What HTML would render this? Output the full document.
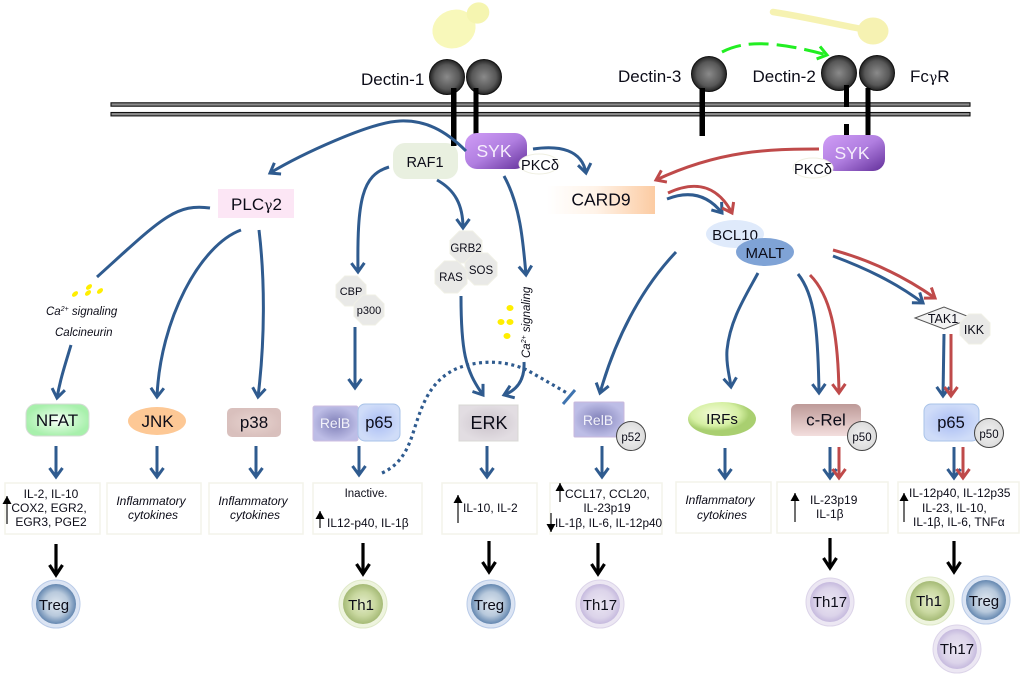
<!DOCTYPE html>
<html><head><meta charset="utf-8"><title>Dectin signaling</title>
<style>
html,body{margin:0;padding:0;background:#fff}
svg{display:block;filter:blur(.35px)}
text{font-family:"Liberation Sans","DejaVu Sans",sans-serif;fill:#0c0c18}
.c{text-anchor:middle}
.s12{font-size:12px}
.i{font-style:italic;font-size:12px}
.b{fill:none;stroke:#2f5b8f;stroke-width:3;marker-end:url(#mb)}
.n{fill:none;stroke:#2f5b8f;stroke-width:3}
.r{fill:none;stroke:#bf4a4a;stroke-width:3;marker-end:url(#mr)}
.k{fill:none;stroke:#000;stroke-width:3.2;marker-end:url(#mk)}
.u{fill:none;stroke:#333;stroke-width:1.4;marker-end:url(#mu)}
.box{fill:#fff;stroke:#f3f3ea;stroke-width:1.5}
</style></head><body>
<svg width="1024" height="676" viewBox="0 0 1024 676" xmlns="http://www.w3.org/2000/svg">
<defs>
<marker id="mb" markerUnits="userSpaceOnUse" markerWidth="18" markerHeight="18" refX="14" refY="8" orient="auto" overflow="visible"><path d="M5 1.500L14 8L5 14.500" fill="none" stroke="#2f5b8f" stroke-width="3"/></marker>
<marker id="mr" markerUnits="userSpaceOnUse" markerWidth="18" markerHeight="18" refX="14" refY="8" orient="auto" overflow="visible"><path d="M5 1.500L14 8L5 14.500" fill="none" stroke="#bf4a4a" stroke-width="3"/></marker>
<marker id="mk" markerUnits="userSpaceOnUse" markerWidth="18" markerHeight="18" refX="14" refY="8" orient="auto" overflow="visible"><path d="M4 1.500L14 8L4 14.500" fill="none" stroke="#000" stroke-width="3.200"/></marker>
<marker id="mu" markerUnits="userSpaceOnUse" markerWidth="12" markerHeight="12" refX="9" refY="5" orient="auto" overflow="visible"><path d="M1 0.5L9 5L1 9.5Z" fill="#000"/></marker>
<marker id="mg" markerUnits="userSpaceOnUse" markerWidth="18" markerHeight="18" refX="14" refY="8" orient="auto" overflow="visible"><path d="M5 1.500L14 8L5 14.500" fill="none" stroke="#22ee22" stroke-width="3"/></marker>
<radialGradient id="ball"><stop offset="0" stop-color="#8a8a8a"/><stop offset=".7" stop-color="#575757"/><stop offset="1" stop-color="#222"/></radialGradient>
<linearGradient id="syk" x1="0" y1="0" x2="1" y2="1"><stop offset="0" stop-color="#d09df6"/><stop offset=".5" stop-color="#b07ee0"/><stop offset="1" stop-color="#63309a"/></linearGradient>
<linearGradient id="card" x1="0" x2="1" y1="0" y2="0"><stop offset="0" stop-color="#fff"/><stop offset=".45" stop-color="#fff3e8"/><stop offset="1" stop-color="#fccba2"/></linearGradient>
<radialGradient id="nfat"><stop offset="0" stop-color="#fff"/><stop offset=".5" stop-color="#cdf8cf"/><stop offset="1" stop-color="#a8f0ac"/></radialGradient>
<radialGradient id="p38"><stop offset="0" stop-color="#e8d4d0"/><stop offset="1" stop-color="#d9c0bd"/></radialGradient>
<radialGradient id="relb"><stop offset="0" stop-color="#8080b8"/><stop offset="1" stop-color="#bdbde6"/></radialGradient>
<radialGradient id="p65"><stop offset="0" stop-color="#aabdf5"/><stop offset="1" stop-color="#cfdcf8"/></radialGradient>
<radialGradient id="erk"><stop offset="0" stop-color="#cbc3cb"/><stop offset="1" stop-color="#e2dde2"/></radialGradient>
<linearGradient id="crel" x1="0" x2="0" y1="0" y2="1"><stop offset="0" stop-color="#bd9a98"/><stop offset="1" stop-color="#f3dedd"/></linearGradient>
<radialGradient id="irf" cx=".4" cy=".35"><stop offset="0" stop-color="#f3fbd8"/><stop offset=".7" stop-color="#d6f0a4"/><stop offset="1" stop-color="#a9cf70"/></radialGradient>
<radialGradient id="treg"><stop offset="0" stop-color="#dfe7f0"/><stop offset=".6" stop-color="#b8c9dc"/><stop offset="1" stop-color="#6487b0"/></radialGradient>
<radialGradient id="th1"><stop offset="0" stop-color="#e3ebc9"/><stop offset=".6" stop-color="#c9d8a0"/><stop offset="1" stop-color="#a5ba76"/></radialGradient>
<radialGradient id="th17"><stop offset="0" stop-color="#eae5f2"/><stop offset=".7" stop-color="#dcd4ea"/><stop offset="1" stop-color="#c6bade"/></radialGradient>
<radialGradient id="p5"><stop offset="0" stop-color="#f2f2f2"/><stop offset="1" stop-color="#dcdcdc"/></radialGradient>
<polygon id="o16" points="16,6.6 6.6,16 -6.6,16 -16,6.6 -16,-6.6 -6.6,-16 6.6,-16 16,-6.6" fill="#e9e9e7" stroke="#f0f0e6" stroke-width="1"/>
<polygon id="o15" points="15,6.2 6.2,15 -6.2,15 -15,6.2 -15,-6.2 -6.2,-15 6.2,-15 15,-6.2" fill="#e9e9e7" stroke="#f0f0e6" stroke-width="1"/>
</defs>

<!-- fungi -->
<g fill="#f8f8ba">
<ellipse cx="454" cy="29" rx="22" ry="19" transform="rotate(-22 454 29)"/>
<ellipse cx="478" cy="13" rx="11.500" ry="10.500" transform="rotate(-25 478 13)" fill="#f5f5b0"/>
</g>
<path d="M773 12C800 16 835 24 862 29" stroke="#f6f2b2" stroke-width="6.500" fill="none" stroke-linecap="round"/>
<ellipse cx="873" cy="31" rx="15.500" ry="13.500" fill="#f6f2b2"/>

<!-- membrane -->
<rect x="111" y="102.800" width="859" height="3.400" fill="#8c8c8c" stroke="#111" stroke-width="1.100"/>
<rect x="111" y="112.500" width="859" height="3.400" fill="#8c8c8c" stroke="#111" stroke-width="1.100"/>

<!-- stems -->
<g fill="#000">
<rect x="451" y="88" width="5.5" height="58"/>
<rect x="473.500" y="90" width="5" height="44"/>
<rect x="699.500" y="90" width="5.500" height="46"/>
<rect x="844" y="85" width="5" height="22"/>
<rect x="844" y="124" width="5" height="13"/>
<rect x="865.500" y="88" width="5" height="48"/>
</g>
<g fill="url(#ball)" stroke="#111" stroke-width="1">
<circle cx="447" cy="77" r="17.500"/><circle cx="484" cy="77" r="17.500"/>
<circle cx="709" cy="74" r="17.500"/><circle cx="839" cy="73" r="17.500"/><circle cx="877" cy="73" r="17.500"/>
</g>
<rect x="451" y="88" width="5.5" height="12" fill="#000"/><rect x="473.500" y="88" width="5" height="6" fill="#000"/>
<rect x="699.500" y="88" width="5.500" height="4" fill="#000"/><rect x="844" y="85" width="5" height="5" fill="#000"/><rect x="865.500" y="88" width="5" height="4" fill="#000"/>
<g style="font-size:17px">
<text x="361" y="85">Dectin-1</text>
<text x="618" y="82">Dectin-3</text>
<text x="752.500" y="82">Dectin-2</text>
<text x="910" y="82">Fc<tspan style="font-family:'DejaVu Serif',serif;font-size:14px">γ</tspan>R</text>
</g>

<!-- upper nodes -->
<rect x="393" y="143" width="65" height="36" rx="12" fill="#e9f0e0"/>
<rect x="451" y="133" width="5.500" height="13" fill="#000"/>
<text x="425" y="167" class="c" style="font-size:14.500px">RAF1</text>
<rect x="465" y="133" width="62" height="36" rx="12" fill="url(#syk)"/>
<text x="494" y="157" class="c" style="font-size:17.500px;fill:#f6eefc">SYK</text>
<ellipse cx="539" cy="164" rx="20" ry="10" fill="#fff" stroke="#efefe2"/>
<text x="540" y="170" class="c" style="font-size:14.500px">PKCδ</text>
<rect x="823" y="135" width="62" height="36" rx="12" fill="url(#syk)"/>
<text x="852" y="159" class="c" style="font-size:17.500px;fill:#f6eefc">SYK</text>
<ellipse cx="813" cy="168" rx="20" ry="10" fill="#fff" stroke="#efefe2"/>
<text x="813" y="174" class="c" style="font-size:14.500px">PKCδ</text>
<rect x="547" y="186" width="108" height="28" fill="url(#card)"/>
<text x="601" y="205.500" class="c" style="font-size:17.500px">CARD9</text>
<rect x="218" y="189" width="76" height="29" fill="#fce6f5"/>
<text x="256.500" y="210" class="c" style="font-size:17px">PLC<tspan style="font-family:'DejaVu Serif',serif;font-size:14px">γ</tspan>2</text>

<ellipse cx="735" cy="234" rx="29" ry="14" fill="#dfeafb"/>
<text x="735" y="240" class="c" style="font-size:15px">BCL10</text>
<ellipse cx="765" cy="252" rx="29" ry="14" fill="#7fa3d6"/>
<text x="765" y="258" class="c" style="font-size:15px">MALT</text>

<use href="#o16" x="466" y="247"/><use href="#o16" x="481" y="269"/><use href="#o16" x="451" y="277"/>
<text x="466" y="252" class="c" style="font-size:11.5px">GRB2</text>
<text x="481" y="274" class="c" style="font-size:11.5px">SOS</text>
<text x="451" y="281" class="c" style="font-size:11.5px">RAS</text>
<use href="#o15" x="351" y="291"/><use href="#o15" x="369" y="310"/>
<text x="351" y="295" class="c" style="font-size:11px">CBP</text>
<text x="369" y="314" class="c" style="font-size:11px">p300</text>

<polygon points="915,318 944,307 972,318 944,329" fill="#f2f2f2" stroke="#555" stroke-width="1"/>
<text x="943" y="323" class="c" style="font-size:12.500px">TAK1</text>
<use href="#o15" x="975" y="329"/>
<text x="974" y="334" class="c" style="font-size:12.500px">IKK</text>

<!-- connectors -->
<g>
<path class="b" d="M466 151C445 130 425 120 400 121C370 122 300 155 270 173"/>
<path class="b" d="M533 149C560 145 582 150 586 173"/>
<path class="b" d="M389 167C362 175 357 200 358 272"/>
<path class="b" d="M437 180C455 190 463 205 463 228"/>
<path class="b" d="M504 176C520 205 523 240 526 275"/>
<path class="b" d="M461 296C461 350 465 370 483 395"/>
<path class="b" d="M524 362C525 380 517 390 504 395"/>
<path class="b" d="M355 327L355 388"/>
<path d="M382 473C400 465 408 450 414 430C422 405 430 380 458 368C480 360 505 360 527 370L567 393" fill="none" stroke="#2f5b8f" stroke-width="3.200" stroke-dasharray="3 3.500"/>
<path d="M563 404L575 390" stroke="#3f74b0" stroke-width="3" fill="none"/>
<path class="b" d="M676 252C640 290 615 340 600 393"/>
<path class="b" d="M758 273C745 297 730 320 727 350C726 365 730 378 731 387"/>
<path class="b" d="M798 274C815 295 818 330 819 393"/>
<path class="r" d="M810 275C830 295 838 330 839 393"/>
<path class="b" d="M833 256C865 268 895 282 923 303"/>
<path class="r" d="M833 250C870 260 905 277 935 298"/>
<path class="b" d="M944 334L943 396"/>
<path class="r" d="M951 334L951 396"/>
<path class="b" d="M667 199C690 190 708 195 722 213"/>
<path class="r" d="M668 193C700 178 720 190 732 213"/>
<path class="r" d="M819 149C770 149 720 150 656 180"/>
<path d="M722 52C745 40 775 41 827 55" fill="none" stroke="#22ee22" stroke-width="3" stroke-dasharray="20 8" marker-end="url(#mg)"/>
<path class="n" d="M210 208C175 203 160 220 97 277"/>
<path class="b" d="M241 230C200 245 160 320 157 397"/>
<path class="b" d="M259 230C265 280 265 340 258 397"/>
<path class="b" d="M71 345C65 365 60 380 57 398"/>
</g>

<!-- Ca labels -->
<g fill="#ffee00">
<ellipse cx="75" cy="294" rx="3.500" ry="2.200" transform="rotate(-40 75 294)"/>
<ellipse cx="89" cy="287" rx="3.500" ry="2.200" transform="rotate(-40 89 287)"/>
<ellipse cx="88" cy="293" rx="3.500" ry="2.200" transform="rotate(-40 88 293)"/>
<ellipse cx="100" cy="291" rx="3.500" ry="2.200" transform="rotate(-40 100 291)"/>
<ellipse cx="510" cy="308" rx="3.500" ry="3"/><ellipse cx="501" cy="322" rx="3.500" ry="3"/>
<ellipse cx="510" cy="322" rx="3.500" ry="3"/><ellipse cx="507" cy="336" rx="3.500" ry="3"/>
</g>
<text x="46" y="315" style="font-size:11.500px;font-style:italic">Ca<tspan dy="-4" style="font-size:7px">2+</tspan><tspan dy="4"> signaling</tspan></text>
<text x="55" y="336" style="font-size:11.500px;font-style:italic">Calcineurin</text>
<text transform="translate(530 358) rotate(-90)" style="font-size:11.500px;font-style:italic">Ca<tspan dy="-4" style="font-size:7px">2+</tspan><tspan dy="4"> signaling</tspan></text>

<!-- TF nodes -->
<rect x="26" y="404" width="63" height="32" rx="10" fill="url(#nfat)" stroke="#d6dcd6" stroke-width="1"/>
<text x="57" y="426" class="c" style="font-size:17px">NFAT</text>
<ellipse cx="157" cy="421" rx="29" ry="14" fill="#fdc895"/>
<text x="157.500" y="427" class="c" style="font-size:17px">JNK</text>
<rect x="227" y="408" width="54" height="29" rx="5" fill="url(#p38)"/>
<text x="254" y="428" class="c" style="font-size:17px">p38</text>
<rect x="313" y="406" width="45" height="35" rx="2" fill="url(#relb)" stroke="#cdbde0"/>
<text x="335" y="428" class="c" style="font-size:14px;fill:#f2f2fa">RelB</text>
<rect x="358" y="404" width="42" height="37" rx="7" fill="url(#p65)" stroke="#a9c3e8"/>
<text x="379" y="428" class="c" style="font-size:16.500px">p65</text>
<rect x="459" y="405" width="59" height="36" fill="url(#erk)" stroke="#d8d8d4"/>
<text x="489" y="429" class="c" style="font-size:18px">ERK</text>
<rect x="574" y="402" width="50" height="35" rx="1" fill="url(#relb)" stroke="#c9b8dc"/>
<text x="598" y="425" class="c" style="font-size:14px;fill:#f2f2fa">RelB</text>
<circle cx="631" cy="436" r="14.500" fill="url(#p5)" stroke="#444" stroke-width="1"/>
<text x="631" y="441" class="c" style="font-size:11.500px">p52</text>
<ellipse cx="722" cy="419" rx="34" ry="17" fill="url(#irf)"/>
<text x="722" y="424" class="c" style="font-size:15px">IRFs</text>
<rect x="791" y="404" width="70" height="32" rx="6" fill="url(#crel)"/>
<text x="826" y="425.500" class="c" style="font-size:17px">c-Rel</text>
<circle cx="862" cy="436" r="14.500" fill="url(#p5)" stroke="#444" stroke-width="1"/>
<text x="862" y="441" class="c" style="font-size:11.500px">p50</text>
<rect x="924" y="404" width="55" height="37" rx="7" fill="url(#p65)" stroke="#a9c3e8"/>
<text x="951" y="428" class="c" style="font-size:16.500px">p65</text>
<circle cx="989" cy="433" r="14.500" fill="url(#p5)" stroke="#444" stroke-width="1"/>
<text x="989" y="438" class="c" style="font-size:11.500px">p50</text>

<!-- short arrows -->
<path class="b" d="M56 446V477"/><path class="b" d="M157 446V477"/><path class="b" d="M256 446V477"/>
<path class="b" d="M359 446V475"/><path class="b" d="M487 446V477"/><path class="b" d="M602 446V477"/>
<path class="b" d="M725 448V478"/><path class="b" d="M830 447V478"/><path class="r" d="M839 447V478"/>
<path class="b" d="M954 447V478"/><path class="r" d="M963 447V478"/>

<!-- boxes -->
<rect class="box" x="5" y="483" width="95" height="51"/>
<rect class="box" x="107" y="483" width="94" height="51"/>
<rect class="box" x="209" y="483" width="94" height="51"/>
<rect class="box" x="313" y="483" width="109" height="51"/>
<rect class="box" x="442" y="483" width="95" height="51"/>
<rect class="box" x="550" y="483" width="112" height="51"/>
<rect class="box" x="676" y="482" width="95" height="51"/>
<rect class="box" x="777" y="482" width="111" height="51"/>
<rect class="box" x="898" y="482" width="121" height="51"/>

<g class="s12">
<text x="51" y="498" class="c s12">IL-2,  IL-10</text>
<text x="49" y="512" class="c s12">COX2,  EGR2,</text>
<text x="51" y="526" class="c s12">EGR3, PGE2</text>
<text x="151" y="505" class="c i">Inflammatory</text>
<text x="153" y="519" class="c i">cytokines</text>
<text x="253" y="505" class="c i">Inflammatory</text>
<text x="255" y="519" class="c i">cytokines</text>
<text x="366" y="497" class="c" style="font-size:11.500px">Inactive.</text>
<text x="327" y="527" class="s12">IL12-p40,  IL-1β</text>
<text x="463" y="512" class="s12">IL-10,  IL-2</text>
<text x="565" y="498" class="s12">CCL17,  CCL20,</text>
<text x="607" y="512" class="c s12">IL-23p19</text>
<text x="555" y="527" class="s12" style="font-size:11.800px">IL-1β, IL-6,  IL-12p40</text>
<text x="720" y="504" class="c i">Inflammatory</text>
<text x="722" y="519" class="c i">cytokines</text>
<text x="810" y="504" class="s12">IL-23p19</text>
<text x="816" y="518" class="s12">IL-1β</text>
<text x="909" y="497" class="s12">IL-12p40,  IL-12p35</text>
<text x="922" y="512" class="s12">IL-23,  IL-10,</text>
<text x="913" y="526" class="s12">IL-1β, IL-6,  TNFα</text>
</g>

<!-- small up/down arrows -->
<path class="u" d="M7 524V496"/><path class="u" d="M320 528V511"/><path class="u" d="M458 523V495"/>
<path class="u" d="M560 502V483"/><path class="u" d="M551 513V532"/><path class="u" d="M795 522V493"/><path class="u" d="M904 522V493"/>

<!-- black arrows -->
<path class="k" d="M56 544V575"/><path class="k" d="M363 543V574"/><path class="k" d="M489 541V572"/>
<path class="k" d="M598 543V574"/><path class="k" d="M830 538V568"/><path class="k" d="M954 541V572"/>

<!-- cells -->
<g>
<circle cx="56" cy="604" r="24" fill="#dbe4f3" stroke="#b9cbe8" stroke-width="1"/><circle cx="56" cy="604" r="20" fill="url(#treg)"/>
<text x="54" y="610" class="c" style="font-size:15px">Treg</text>
<circle cx="363" cy="604" r="24" fill="#eef4de" stroke="#dfe9c8" stroke-width="1"/><circle cx="363" cy="604" r="20" fill="url(#th1)"/>
<text x="361" y="610" class="c" style="font-size:15px">Th1</text>
<circle cx="491" cy="604" r="24" fill="#dbe4f3" stroke="#b9cbe8" stroke-width="1"/><circle cx="491" cy="604" r="20" fill="url(#treg)"/>
<text x="489" y="610" class="c" style="font-size:15px">Treg</text>
<circle cx="600" cy="604" r="24" fill="#ece7f3" stroke="#dcd4e9" stroke-width="1"/><circle cx="600" cy="604" r="20" fill="url(#th17)"/>
<text x="600" y="610" class="c" style="font-size:15px">Th17</text>
<circle cx="830" cy="602" r="24" fill="#ece7f3" stroke="#dcd4e9" stroke-width="1"/><circle cx="830" cy="602" r="20" fill="url(#th17)"/>
<text x="830" y="607" class="c" style="font-size:15px">Th17</text>
<circle cx="930" cy="601" r="24" fill="#eef4de" stroke="#dfe9c8" stroke-width="1"/><circle cx="930" cy="601" r="20" fill="url(#th1)"/>
<text x="929" y="606" class="c" style="font-size:15px">Th1</text>
<circle cx="986" cy="600" r="24" fill="#dbe4f3" stroke="#b9cbe8" stroke-width="1"/><circle cx="986" cy="600" r="20" fill="url(#treg)"/>
<text x="984" y="606" class="c" style="font-size:15px">Treg</text>
<circle cx="957" cy="649" r="24" fill="#ece7f3" stroke="#dcd4e9" stroke-width="1"/><circle cx="957" cy="649" r="20" fill="url(#th17)"/>
<text x="957" y="654" class="c" style="font-size:15px">Th17</text>
</g>
</svg>
</body></html>
